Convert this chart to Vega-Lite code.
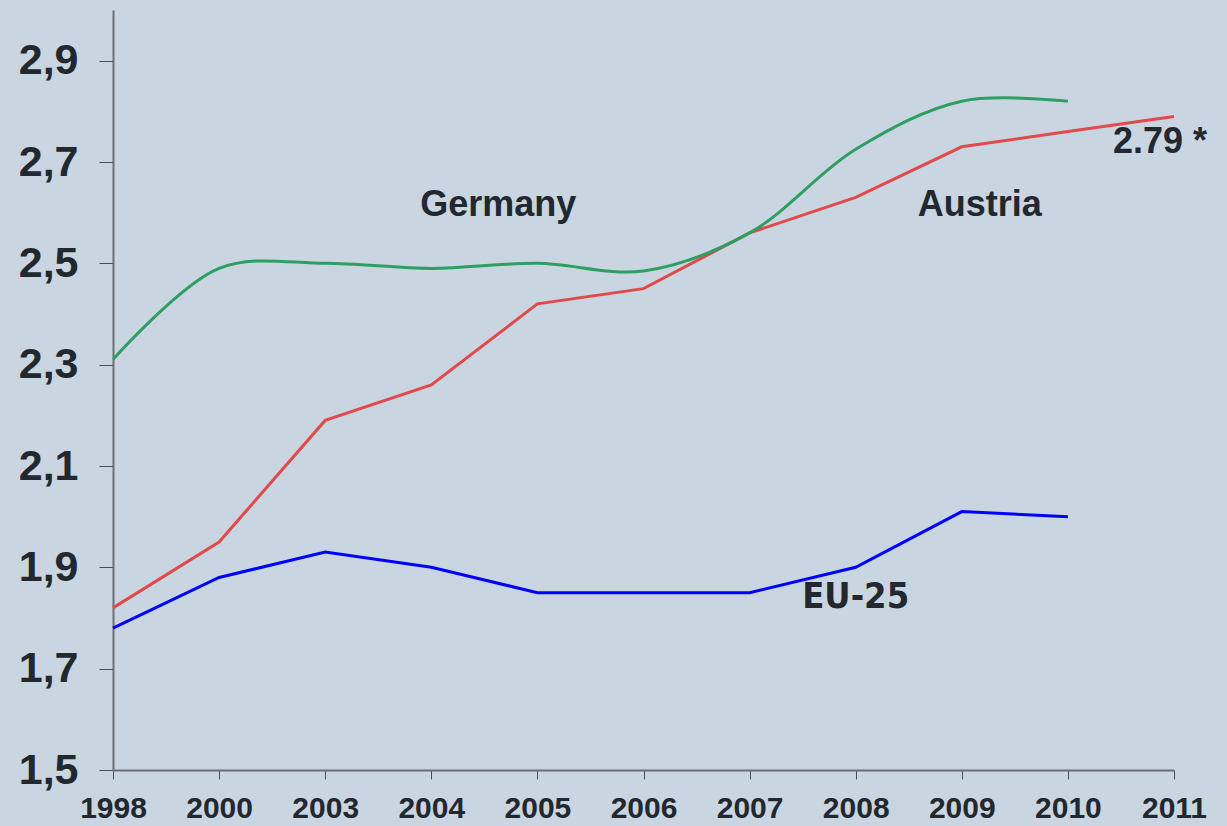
{
  "$schema": "https://vega.github.io/schema/vega-lite/v6.json",
  "width": 1061,
  "height": 760,
  "autosize": {"type": "none"},
  "padding": {"left": 113, "top": 10, "right": 53, "bottom": 56},
  "background": "#c9d5e1",
  "config": {
    "view": {"stroke": null},
    "font": "Liberation Sans"
  },
  "datasets": {
    "series": [
      {"year": "1998", "country": "Austria", "value": 1.82},
      {"year": "2000", "country": "Austria", "value": 1.95},
      {"year": "2003", "country": "Austria", "value": 2.19},
      {"year": "2004", "country": "Austria", "value": 2.26},
      {"year": "2005", "country": "Austria", "value": 2.42},
      {"year": "2006", "country": "Austria", "value": 2.45},
      {"year": "2007", "country": "Austria", "value": 2.56},
      {"year": "2008", "country": "Austria", "value": 2.63},
      {"year": "2009", "country": "Austria", "value": 2.73},
      {"year": "2010", "country": "Austria", "value": 2.76},
      {"year": "2011", "country": "Austria", "value": 2.79},
      {"year": "1998", "country": "EU-25", "value": 1.78},
      {"year": "2000", "country": "EU-25", "value": 1.88},
      {"year": "2003", "country": "EU-25", "value": 1.93},
      {"year": "2004", "country": "EU-25", "value": 1.90},
      {"year": "2005", "country": "EU-25", "value": 1.85},
      {"year": "2006", "country": "EU-25", "value": 1.85},
      {"year": "2007", "country": "EU-25", "value": 1.85},
      {"year": "2008", "country": "EU-25", "value": 1.90},
      {"year": "2009", "country": "EU-25", "value": 2.01},
      {"year": "2010", "country": "EU-25", "value": 2.00}
    ],
    "germany": [
      {"year": "1998", "country": "Germany", "value": 2.31},
      {"year": "2000", "country": "Germany", "value": 2.49},
      {"year": "2003", "country": "Germany", "value": 2.50},
      {"year": "2004", "country": "Germany", "value": 2.49},
      {"year": "2005", "country": "Germany", "value": 2.50},
      {"year": "2006", "country": "Germany", "value": 2.485},
      {"year": "2007", "country": "Germany", "value": 2.56},
      {"year": "2008", "country": "Germany", "value": 2.725},
      {"year": "2009", "country": "Germany", "value": 2.82},
      {"year": "2010", "country": "Germany", "value": 2.82}
    ],
    "labels": [
      {"year": "2004", "value": 2.615, "text": "Germany", "off": 67},
      {"year": "2009", "value": 2.615, "text": "Austria", "off": 18},
      {"year": "2011", "value": 2.74, "text": "2.79 *", "off": -14}
    ],
    "eu": [
      {"year": "2008", "value": 1.842, "text": "EU-25"}
    ]
  },
  "encoding": {
    "x": {
      "field": "year",
      "type": "ordinal",
      "sort": ["1998", "2000", "2003", "2004", "2005", "2006", "2007", "2008", "2009", "2010", "2011"],
      "scale": {"type": "point", "padding": 0},
      "axis": {
        "title": null,
        "labelAngle": 0,
        "labelFont": "Liberation Sans",
        "labelFontSize": 30,
        "labelFontWeight": "bold",
        "labelColor": "#22282e",
        "labelPadding": 14,
        "tickSize": 9,
        "tickColor": "#4a4f55",
        "domainColor": "#6b7078",
        "domainWidth": 2,
        "grid": false
      }
    },
    "y": {
      "field": "value",
      "type": "quantitative",
      "scale": {"domain": [1.5, 3.0], "nice": false, "zero": false},
      "axis": {
        "title": null,
        "values": [1.5, 1.7, 1.9, 2.1, 2.3, 2.5, 2.7, 2.9],
        "labelExpr": "replace(format(datum.value, '.1f'), '.', ',')",
        "labelFont": "Liberation Sans",
        "labelFontSize": 43,
        "labelFontWeight": "bold",
        "labelColor": "#22282e",
        "labelPadding": 21,
        "tickSize": 14,
        "tickColor": "#4a4f55",
        "domainColor": "#6b7078",
        "domainWidth": 2,
        "grid": false
      }
    }
  },
  "layer": [
    {
      "data": {"name": "series"},
      "mark": {"type": "line", "strokeWidth": 3},
      "encoding": {
        "color": {
          "field": "country",
          "type": "nominal",
          "scale": {"domain": ["Austria", "EU-25"], "range": ["#e04a4a", "#0000ff"]},
          "legend": null
        }
      }
    },
    {
      "data": {"name": "germany"},
      "mark": {"type": "line", "strokeWidth": 3, "color": "#2e9e62", "interpolate": "catmull-rom"},
      "encoding": {}
    },
    {
      "data": {"name": "labels"},
      "mark": {"type": "text", "fontSize": 36, "fontWeight": "bold", "color": "#22282e", "align": "center", "baseline": "middle"},
      "encoding": {
        "text": {"field": "text"},
        "xOffset": {"field": "off", "type": "quantitative", "scale": null}
      }
    },
    {
      "data": {"name": "eu"},
      "mark": {"type": "text", "fontSize": 36, "fontWeight": "bold", "font": "DejaVu Sans Condensed", "color": "#22282e", "align": "center", "baseline": "middle"},
      "encoding": {
        "text": {"field": "text"}
      }
    }
  ]
}
